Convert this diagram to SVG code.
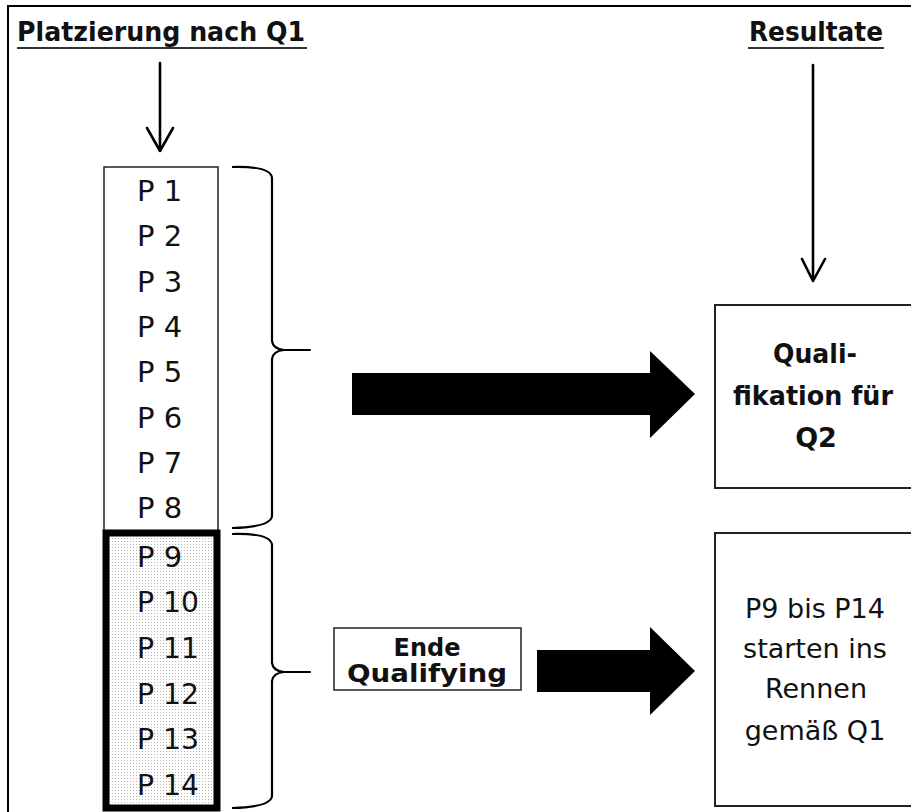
<svg xmlns="http://www.w3.org/2000/svg" width="911" height="812" viewBox="0 0 911 812">
  <defs>
    <pattern id="dots" width="3" height="3" patternUnits="userSpaceOnUse">
      <rect width="3" height="3" fill="#ffffff"/>
      <rect x="1" y="1" width="1" height="1" fill="#b4b4b4"/>
    </pattern>
  </defs>
  <style>
    .head { font-family: "DejaVu Sans", Verdana, sans-serif; font-weight: bold; font-size: 27px; fill: #111; }
    .pos { font-family: "DejaVu Sans", Verdana, sans-serif; font-size: 29px; fill: #111; }
    .lbl { font-family: "DejaVu Sans", Verdana, sans-serif; font-weight: bold; font-size: 27px; fill: #111; text-anchor: middle; }
    .end { font-family: "DejaVu Sans", Verdana, sans-serif; font-weight: bold; font-size: 24px; fill: #111; text-anchor: middle; }
    .txt { font-family: "DejaVu Sans", Verdana, sans-serif; font-size: 27px; fill: #111; text-anchor: middle; }
    .box { fill: #ffffff; stroke: #222; stroke-width: 2; }
    .thin { fill: #ffffff; stroke: #222; stroke-width: 1.5; }
    .uline { stroke: #333; stroke-width: 2; }
    .brace { fill: none; stroke: #000; stroke-width: 2.2; stroke-linejoin: round; }
    .small { fill: none; stroke: #000; stroke-width: 2.6; stroke-linecap: round; stroke-linejoin: round; }
    .big { fill: #000; }
  </style>

  <rect width="911" height="812" fill="#ffffff"/>

  <!-- frame -->
  <path d="M8,812 L8,6 L911,6" fill="none" stroke="#000" stroke-width="2"/>

  <!-- column headings -->
  <g id="heading-left">
    <text class="head" x="17" y="41" textLength="288" lengthAdjust="spacingAndGlyphs">Platzierung nach Q1</text>
    <line class="uline" x1="17" y1="48" x2="307" y2="48"/>
  </g>
  <g id="heading-right">
    <text class="head" x="749" y="41" textLength="134" lengthAdjust="spacingAndGlyphs">Resultate</text>
    <line class="uline" x1="748" y1="48" x2="884" y2="48"/>
  </g>

  <!-- positions 1-8 -->
  <g id="group-p1-p8">
    <rect class="thin" x="104" y="167" width="114" height="364"/>
    <text class="pos" x="137" y="201">P 1</text>
    <text class="pos" x="137" y="246">P 2</text>
    <text class="pos" x="137" y="292">P 3</text>
    <text class="pos" x="137" y="337">P 4</text>
    <text class="pos" x="137" y="382">P 5</text>
    <text class="pos" x="137" y="428">P 6</text>
    <text class="pos" x="137" y="473">P 7</text>
    <text class="pos" x="137" y="518">P 8</text>
  </g>

  <!-- positions 9-14 -->
  <g id="group-p9-p14">
    <rect x="106" y="533" width="111" height="275" fill="url(#dots)" stroke="#000" stroke-width="7"/>
    <text class="pos" x="137" y="567">P 9</text>
    <text class="pos" x="137" y="612" textLength="62" lengthAdjust="spacingAndGlyphs">P 10</text>
    <text class="pos" x="137" y="658" textLength="62" lengthAdjust="spacingAndGlyphs">P 11</text>
    <text class="pos" x="137" y="704" textLength="62" lengthAdjust="spacingAndGlyphs">P 12</text>
    <text class="pos" x="137" y="749" textLength="62" lengthAdjust="spacingAndGlyphs">P 13</text>
    <text class="pos" x="137" y="795" textLength="62" lengthAdjust="spacingAndGlyphs">P 14</text>
  </g>

  <!-- end of qualifying -->
  <g id="ende-qualifying">
    <rect class="thin" x="334" y="628" width="187" height="62"/>
    <text class="end" x="427" y="656">Ende</text>
    <text class="end" x="427" y="682" textLength="160" lengthAdjust="spacingAndGlyphs">Qualifying</text>
  </g>

  <!-- result: qualified -->
  <g id="result-q2">
    <rect class="box" x="715" y="305" width="210" height="183"/>
    <text class="lbl" x="815" y="363" textLength="84" lengthAdjust="spacingAndGlyphs">Quali-</text>
    <text class="lbl" x="813" y="405" textLength="160" lengthAdjust="spacingAndGlyphs">fikation für</text>
    <text class="lbl" x="816" y="447">Q2</text>
  </g>

  <!-- result: start per Q1 -->
  <g id="result-q1">
    <rect class="box" x="715" y="533" width="210" height="273"/>
    <text class="txt" x="815" y="618">P9 bis P14</text>
    <text class="txt" x="815" y="658">starten ins</text>
    <text class="txt" x="816" y="698">Rennen</text>
    <text class="txt" x="815" y="740">gemäß Q1</text>
  </g>

  <g id="connectors">
    <!-- heading arrows -->
    <path class="small" d="M160,63 L160,151 M147,128 L160,151 L173,128"/>
    <path class="small" d="M813,65 L813,281 M802,259 L813,281 L825,259" stroke-width="2.3"/>

    <!-- braces -->
    <path class="brace" d="M232,167 Q271,166 272,178 L272,341 Q273,349 284,350 L310,350 L284,350 Q273,351 272,359 L272,516 Q271,527 232,528"/>
    <path class="brace" d="M232,534 Q271,533 272,545 L272,663 Q273,671 284,672 L310,672 L284,672 Q273,673 272,681 L272,796 Q271,807 232,808"/>

    <!-- block arrows -->
    <polygon class="big" points="352,373 650,373 650,351 695,394 650,438 650,415 352,415"/>
    <polygon class="big" points="537,650 650,650 650,627 695,671 650,715 650,692 537,692"/>
  </g>
</svg>
